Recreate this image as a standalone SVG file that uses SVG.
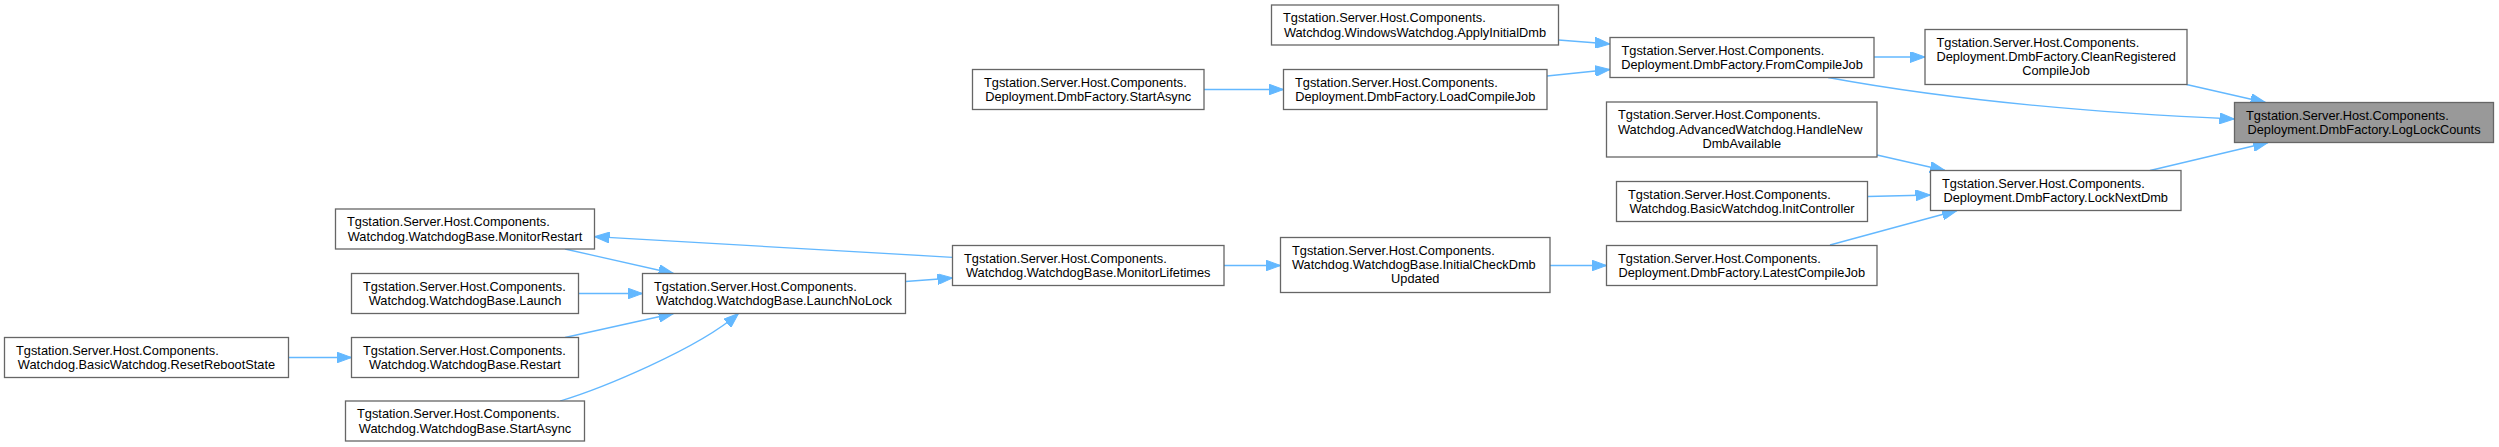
<svg xmlns="http://www.w3.org/2000/svg" width="2499" height="447" viewBox="0 0 2499 447">
<style>
.n rect{fill:#ffffff;stroke:#666666;stroke-width:1.3}
.n.hl rect{fill:#999999}
.n text{font-family:"Liberation Sans",Arial,Helvetica,sans-serif;font-size:12.8px;fill:#000000}
.c{text-anchor:middle}
.e path{fill:none;stroke:#63B8FF;stroke-width:1.3;marker-end:url(#ah)}
</style>
<defs>
<marker id="ah" markerUnits="userSpaceOnUse" markerWidth="15" markerHeight="11" refX="15" refY="5.5" orient="auto"><path d="M0,0 L15,5.5 L0,11 z" fill="#63B8FF" stroke="#63B8FF" stroke-width="1"/></marker>
</defs>
<rect x="0" y="0" width="2499" height="447" fill="#ffffff"/>
<g id="edges" class="e">
<path d="M2186.5,84.5 L2265.5,102.5"/>
<path d="M1828,77.5 C1950,100 2100,113 2234.5,119"/>
<path d="M2150,170.5 L2268,142.5"/>
<path d="M1874,57 L1925,57"/>
<path d="M1558.5,40 L1610,44"/>
<path d="M1547,76 L1610,69.5"/>
<path d="M1204,89.5 L1283.5,89.5"/>
<path d="M1877,155 L1945,170.5"/>
<path d="M1867.5,196.5 L1930.5,195"/>
<path d="M1830,245 L1957,210.5"/>
<path d="M1550,265.5 L1606.5,265.5"/>
<path d="M1224,265.5 L1280.5,265.5"/>
<path d="M905.5,281.5 L952.5,278"/>
<path d="M952.5,257.3 L594.5,236.7"/>
<path d="M565,249 L673.5,273.5"/>
<path d="M578.5,293.5 L642.5,293.5"/>
<path d="M565,337.5 L673.5,313.5"/>
<path d="M560,401 C600,389 698,349 738.5,313.5"/>
<path d="M288.5,357.5 L351.5,357.5"/>
</g>
<g id="n_LogLockCounts" class="n hl"><rect x="2234.5" y="102.5" width="259" height="40"/><text x="2246" y="119.7">Tgstation.Server.Host.Components.</text><text class="c" x="2364" y="134">Deployment.DmbFactory.LogLockCounts</text></g>
<g id="n_CleanRegisteredCompileJob" class="n"><rect x="1925" y="29.5" width="262" height="55"/><text x="1936.5" y="46.8">Tgstation.Server.Host.Components.</text><text x="1936.5" y="61.1">Deployment.DmbFactory.CleanRegistered</text><text class="c" x="2056" y="75.4">CompileJob</text></g>
<g id="n_FromCompileJob" class="n"><rect x="1610" y="37.5" width="264" height="40"/><text x="1621.5" y="54.7">Tgstation.Server.Host.Components.</text><text class="c" x="1742" y="69">Deployment.DmbFactory.FromCompileJob</text></g>
<g id="n_ApplyInitialDmb" class="n"><rect x="1271.5" y="5" width="287" height="40"/><text x="1283" y="22.2">Tgstation.Server.Host.Components.</text><text class="c" x="1415" y="36.5">Watchdog.WindowsWatchdog.ApplyInitialDmb</text></g>
<g id="n_LoadCompileJob" class="n"><rect x="1283.5" y="69.5" width="263.5" height="40"/><text x="1295" y="86.7">Tgstation.Server.Host.Components.</text><text class="c" x="1415.25" y="101">Deployment.DmbFactory.LoadCompileJob</text></g>
<g id="n_DmbFactoryStartAsync" class="n"><rect x="972.5" y="69.5" width="231.5" height="40"/><text x="984" y="86.7">Tgstation.Server.Host.Components.</text><text class="c" x="1088.25" y="101">Deployment.DmbFactory.StartAsync</text></g>
<g id="n_LockNextDmb" class="n"><rect x="1930.5" y="170.5" width="250.5" height="40"/><text x="1942" y="187.7">Tgstation.Server.Host.Components.</text><text class="c" x="2055.75" y="202">Deployment.DmbFactory.LockNextDmb</text></g>
<g id="n_HandleNewDmbAvailable" class="n"><rect x="1606.5" y="102" width="270.5" height="55"/><text x="1618" y="119.3">Tgstation.Server.Host.Components.</text><text x="1618" y="133.6">Watchdog.AdvancedWatchdog.HandleNew</text><text class="c" x="1741.75" y="147.9">DmbAvailable</text></g>
<g id="n_InitController" class="n"><rect x="1616.5" y="181.5" width="251" height="40"/><text x="1628" y="198.7">Tgstation.Server.Host.Components.</text><text class="c" x="1742" y="213">Watchdog.BasicWatchdog.InitController</text></g>
<g id="n_LatestCompileJob" class="n"><rect x="1606.5" y="245.5" width="270.5" height="40"/><text x="1618" y="262.7">Tgstation.Server.Host.Components.</text><text class="c" x="1741.75" y="277">Deployment.DmbFactory.LatestCompileJob</text></g>
<g id="n_InitialCheckDmbUpdated" class="n"><rect x="1280.5" y="237.5" width="269.5" height="55"/><text x="1292" y="254.8">Tgstation.Server.Host.Components.</text><text x="1292" y="269.1">Watchdog.WatchdogBase.InitialCheckDmb</text><text class="c" x="1415.25" y="283.4">Updated</text></g>
<g id="n_MonitorLifetimes" class="n"><rect x="952.5" y="245.5" width="271.5" height="40"/><text x="964" y="262.7">Tgstation.Server.Host.Components.</text><text class="c" x="1088.25" y="277">Watchdog.WatchdogBase.MonitorLifetimes</text></g>
<g id="n_LaunchNoLock" class="n"><rect x="642.5" y="273.5" width="263" height="40"/><text x="654" y="290.7">Tgstation.Server.Host.Components.</text><text class="c" x="774" y="305">Watchdog.WatchdogBase.LaunchNoLock</text></g>
<g id="n_MonitorRestart" class="n"><rect x="335.5" y="209" width="259" height="40"/><text x="347" y="226.2">Tgstation.Server.Host.Components.</text><text class="c" x="465" y="240.5">Watchdog.WatchdogBase.MonitorRestart</text></g>
<g id="n_Launch" class="n"><rect x="351.5" y="273.5" width="227" height="40"/><text x="363" y="290.7">Tgstation.Server.Host.Components.</text><text class="c" x="465" y="305">Watchdog.WatchdogBase.Launch</text></g>
<g id="n_Restart" class="n"><rect x="351.5" y="337.5" width="227" height="40"/><text x="363" y="354.7">Tgstation.Server.Host.Components.</text><text class="c" x="465" y="369">Watchdog.WatchdogBase.Restart</text></g>
<g id="n_WatchdogStartAsync" class="n"><rect x="345.5" y="401" width="239" height="40"/><text x="357" y="418.2">Tgstation.Server.Host.Components.</text><text class="c" x="465" y="432.5">Watchdog.WatchdogBase.StartAsync</text></g>
<g id="n_ResetRebootState" class="n"><rect x="4.5" y="337.5" width="284" height="40"/><text x="16" y="354.7">Tgstation.Server.Host.Components.</text><text class="c" x="146.5" y="369">Watchdog.BasicWatchdog.ResetRebootState</text></g>
</svg>
